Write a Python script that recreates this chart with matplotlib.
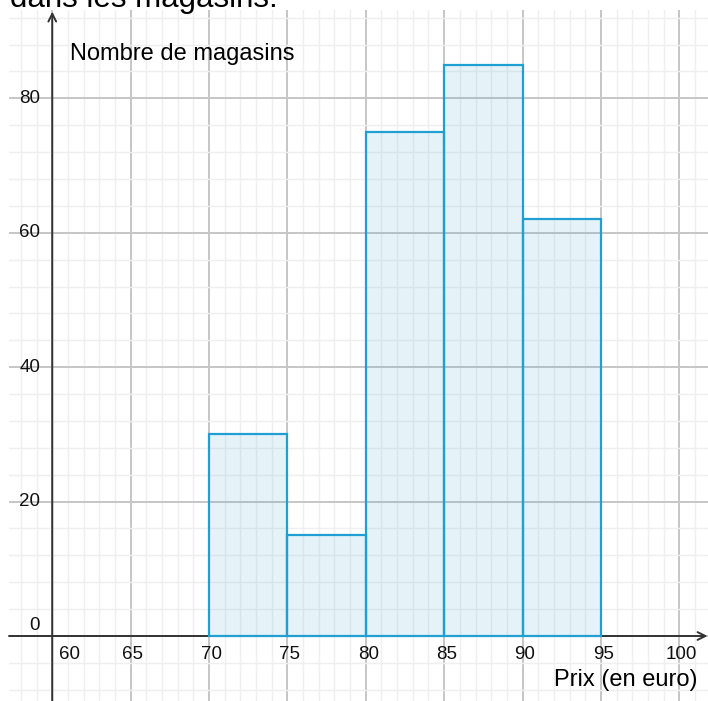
import matplotlib.pyplot as plt
from matplotlib.ticker import MultipleLocator

plt.rcParams['font.family'] = ['Liberation Sans', 'DejaVu Sans']

# histogram data (price classes, number of shops)
bin_edges = [70, 75, 80, 85, 90]
bin_width = 5
counts = [30, 15, 75, 85, 62]

x_ticks = [60, 65, 70, 75, 80, 85, 90, 95, 100]
y_ticks = [0, 20, 40, 60, 80]

fig = plt.figure(figsize=(7.08, 7.01), dpi=100)
ax = fig.add_axes([9 / 708, 0, 699 / 708, 691 / 701])
ax.set_xlim(57.24, 101.83)
ax.set_ylim(-9.67, 93.14)

# grid like geogebra
ax.xaxis.set_major_locator(MultipleLocator(5))
ax.xaxis.set_minor_locator(MultipleLocator(1))
ax.yaxis.set_major_locator(MultipleLocator(20))
ax.yaxis.set_minor_locator(MultipleLocator(4))
ax.grid(which='minor', color='#efefef', lw=1.0)
ax.grid(which='major', color='#c6c6c6', lw=1.4)
ax.set_axisbelow(True)
ax.tick_params(which='both', length=0, labelbottom=False, labelleft=False)
for s in ax.spines.values():
    s.set_visible(False)

ax.bar(bin_edges, counts, width=bin_width, align='edge',
       facecolor=(0.10, 0.60, 0.82, 0.11), edgecolor='#1f9fd2', lw=1.6, zorder=3)

# axes with arrows
ax.annotate('', xy=(101.8, 0), xytext=(57.24, 0),
            arrowprops=dict(arrowstyle='->', color='#333333', lw=1.4,
                            shrinkA=0, shrinkB=0, mutation_scale=14),
            annotation_clip=False, zorder=2)
ax.annotate('', xy=(60, 92.9), xytext=(60, -9.67),
            arrowprops=dict(arrowstyle='->', color='#333333', lw=1.4,
                            shrinkA=0, shrinkB=0, mutation_scale=14),
            annotation_clip=False, zorder=2)

# tick labels
for v in x_ticks:
    xpos = v + 0.15
    if v == 60:
        xpos = 61.13
    ax.text(xpos, -2.8, str(v), ha='center', va='center', fontsize=13.5, color='#111111')
for v in y_ticks:
    ypos = v
    if v == 0:
        ypos = 1.5
    ax.text(59.22, ypos, str(v), ha='right', va='center', fontsize=13.5, color='#111111')

ax.text(61.13, 85.7, 'Nombre de magasins', ha='left', va='baseline', fontsize=17)
ax.text(101.13, -7.44, 'Prix (en euro)', ha='right', va='baseline', fontsize=17)

fig.text(10 / 708, 1 - 7 / 701, 'dans les magasins.', ha='left', va='baseline', fontsize=22.5)

fig.savefig('out.png', dpi=100)
